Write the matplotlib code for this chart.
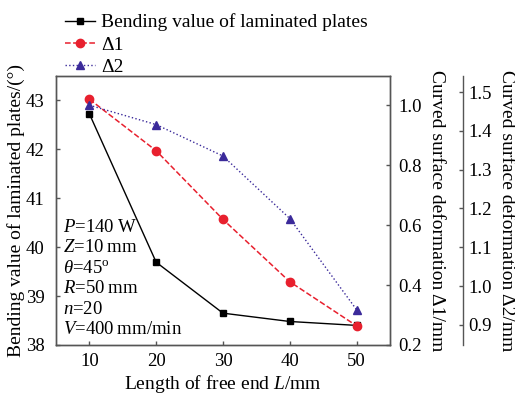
import matplotlib.pyplot as plt

plt.rcParams['font.family'] = ['Liberation Serif', 'DejaVu Serif']
plt.rcParams['mathtext.fontset'] = 'custom'
plt.rcParams['mathtext.rm'] = 'Liberation Serif'
plt.rcParams['mathtext.it'] = 'Liberation Serif:italic'
plt.rcParams['font.size'] = 14

length = [10, 20, 30, 40, 50]
bending = [42.72, 39.69, 38.65, 38.48, 38.40]
delta1 = [1.02, 0.848, 0.619, 0.411, 0.264]
delta2 = [1.466, 1.416, 1.335, 1.174, 0.939]

params = ["$P$=140\u2009W", "$Z$=10\u2009mm", "$\\theta$=45$^{\\rm o}$",
          "$R$=50\u2009mm", "$n$=20", "$V$=400\u2009mm/min"]

spine_col = "#555555"

fig = plt.figure(figsize=(5.15, 3.96), dpi=100)
ax = fig.add_axes([0.1087, 0.1288, 0.6485, 0.679])
ax1 = ax.twinx()
ax2 = ax.twinx()
ax2.spines["right"].set_position(("axes", 1.218))

l0, = ax.plot(length, bending, color="black", marker="s", markersize=5,
              lw=1, label="Bending value of laminated plates")
l1, = ax1.plot(length, delta1, color="#e8202e", ls="--", marker="o",
               markersize=6, lw=1.1, label="\u03941")
l2, = ax2.plot(length, delta2, color="#3b2a9a", ls=":", marker="^",
               markersize=6, lw=1, label="\u03942")

ax.set_xlim(5, 55)
ax.set_ylim(38, 43.49)
ax1.set_ylim(0.2, 1.097)
ax2.set_ylim(0.848, 1.541)
ax.set_xticks(length)
ax.set_yticks([38, 39, 40, 41, 42, 43])
ax1.set_yticks([0.2, 0.4, 0.6, 0.8, 1.0])
ax1.set_yticklabels(["0.2", "0.4", "0.6", "0.8", "1.0"])
ax2.set_yticks([0.9, 1.0, 1.1, 1.2, 1.3, 1.4, 1.5])
ax2.set_yticklabels(["0.9", "1.0", "1.1", "1.2", "1.3", "1.4", "1.5"])

for a in (ax, ax1, ax2):
    a.tick_params(direction="in", length=3, width=1, color=spine_col,
                  labelsize=13.5)
    for s in a.spines.values():
        s.set_color(spine_col)
        s.set_linewidth(1)
ax.tick_params(axis="y", pad=8)
ax.tick_params(axis="x", pad=6)
ax1.tick_params(axis="y", pad=6)
ax2.tick_params(axis="y", pad=4)
ax2.spines["top"].set_visible(False)
ax2.spines["left"].set_visible(False)
ax2.spines["bottom"].set_visible(False)

ax.set_xlabel("Length of free end $L$/mm", labelpad=2)
ax.set_ylabel("Bending value of laminated plates/(\u00b0)", labelpad=1)
ax1.set_ylabel("Curved surface deformation \u03941/mm", rotation=-90,
               labelpad=17)
ax2.set_ylabel("Curved surface deformation \u03942/mm", rotation=-90,
               labelpad=17)

ax.text(0.02, 0.47, "\n".join(params), transform=ax.transAxes,
        va="top", ha="left", linespacing=1.27, fontsize=13.5)

fig.legend(handles=[l0, l1, l2], loc="upper left",
           bbox_to_anchor=(0.126, 0.966), frameon=False, borderpad=0,
           borderaxespad=0, handlelength=1.55, handletextpad=0.3,
           labelspacing=0.25, fontsize=14)

fig.savefig("out.png", dpi=100)
